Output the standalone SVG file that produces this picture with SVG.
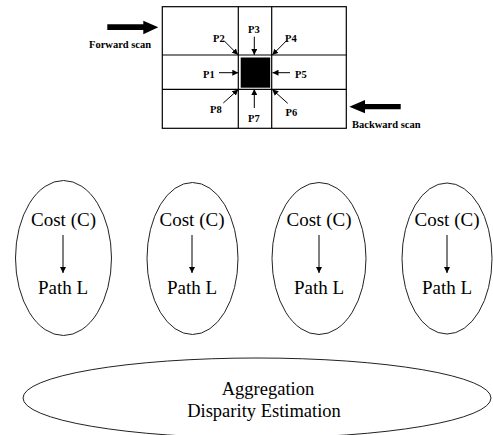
<svg xmlns="http://www.w3.org/2000/svg" width="493" height="435" viewBox="0 0 493 435">
<defs>
<marker id="ah" markerUnits="userSpaceOnUse" markerWidth="7" markerHeight="6" refX="6" refY="3" orient="auto">
<path d="M0,0 L6,3 L0,6 z" fill="#000"/>
</marker>
<style>
.bl{font-family:"Liberation Serif","Times New Roman",serif;font-weight:bold;font-size:10.5px;fill:#000}
.tx{font-family:"Liberation Serif","Times New Roman",serif;font-size:19px;fill:#000;text-anchor:middle}
.gl{stroke:#000;stroke-width:1.2;fill:none}
.el{stroke:#222;stroke-width:1;fill:#fff}
.ar{stroke:#000;stroke-width:1;fill:none;marker-end:url(#ah)}
</style>
</defs>
<rect width="493" height="435" fill="#fff"/>
<g id="grid">
<rect class="gl" x="162.3" y="6.7" width="184" height="121.6"/>
<line class="gl" x1="238.3" y1="6.7" x2="238.3" y2="128.3"/>
<line class="gl" x1="271.7" y1="6.7" x2="271.7" y2="128.3"/>
<line class="gl" x1="162.3" y1="55" x2="346.3" y2="55"/>
<line class="gl" x1="162.3" y1="89.3" x2="346.3" y2="89.3"/>
<rect x="240.7" y="57.5" width="29.5" height="30.2" fill="#000"/>
</g>
<g id="forward-scan">
<polygon points="107.3,24.3 143.3,24.3 143.3,20.7 158.3,27.3 143.3,34.3 143.3,30 107.3,30" fill="#000"/>
<text class="bl" x="89" y="48">Forward scan</text>
</g>
<g id="backward-scan">
<polygon points="400.7,104 365,104 365,100 349.3,106.7 365,113.3 365,109.3 400.7,109.3" fill="#000"/>
<text class="bl" x="352" y="128">Backward scan</text>
</g>
<g id="labels">
<text class="bl" x="203" y="77.7">P1</text>
<text class="bl" x="213" y="41.7">P2</text>
<text class="bl" x="248" y="32.7">P3</text>
<text class="bl" x="285" y="42">P4</text>
<text class="bl" x="295" y="77.7">P5</text>
<text class="bl" x="285.5" y="116">P6</text>
<text class="bl" x="248" y="121.7">P7</text>
<text class="bl" x="210" y="113">P8</text>
</g>
<g id="connectors">
<line class="ar" x1="219" y1="72.7" x2="238.3" y2="72.7"/>
<line class="ar" x1="224" y1="40.7" x2="238" y2="54.7"/>
<line class="ar" x1="254.3" y1="36.7" x2="254.3" y2="55"/>
<line class="ar" x1="286.7" y1="40.5" x2="272.3" y2="55"/>
<line class="ar" x1="290" y1="72.7" x2="272.5" y2="72.7"/>
<line class="ar" x1="287.7" y1="103.3" x2="272.3" y2="89.5"/>
<line class="ar" x1="254.3" y1="108" x2="254.3" y2="89"/>
<line class="ar" x1="223.3" y1="103" x2="238.3" y2="89.5"/>
<line class="ar" x1="63" y1="235" x2="63" y2="273"/>
<line class="ar" x1="192" y1="235" x2="192" y2="273"/>
<line class="ar" x1="319" y1="235" x2="319" y2="273"/>
<line class="ar" x1="447" y1="235" x2="447" y2="273"/>
</g>
<g id="path1">
<ellipse class="el" cx="63.5" cy="258" rx="48" ry="77.5" fill-opacity="0"/>
<text class="tx" x="63.5" y="226">Cost (C)</text>
<text class="tx" x="63" y="294">Path L</text>
</g>
<g id="path2">
<ellipse class="el" cx="192.5" cy="258.5" rx="45.5" ry="76" fill-opacity="0"/>
<text class="tx" x="192" y="226">Cost (C)</text>
<text class="tx" x="192" y="294">Path L</text>
</g>
<g id="path3">
<ellipse class="el" cx="319" cy="258.5" rx="47" ry="76" fill-opacity="0"/>
<text class="tx" x="319" y="226">Cost (C)</text>
<text class="tx" x="319" y="294">Path L</text>
</g>
<g id="path4">
<ellipse class="el" cx="447" cy="258.5" rx="45" ry="75.5" fill-opacity="0"/>
<text class="tx" x="447" y="226">Cost (C)</text>
<text class="tx" x="447" y="294">Path L</text>
</g>
<g id="aggregation">
<ellipse class="el" cx="257" cy="398" rx="234" ry="40" fill-opacity="0"/>
<text class="tx" x="268" y="395" style="font-size:18.5px">Aggregation</text>
<text class="tx" x="264" y="417" style="font-size:18.5px">Disparity Estimation</text>
</g>
</svg>
